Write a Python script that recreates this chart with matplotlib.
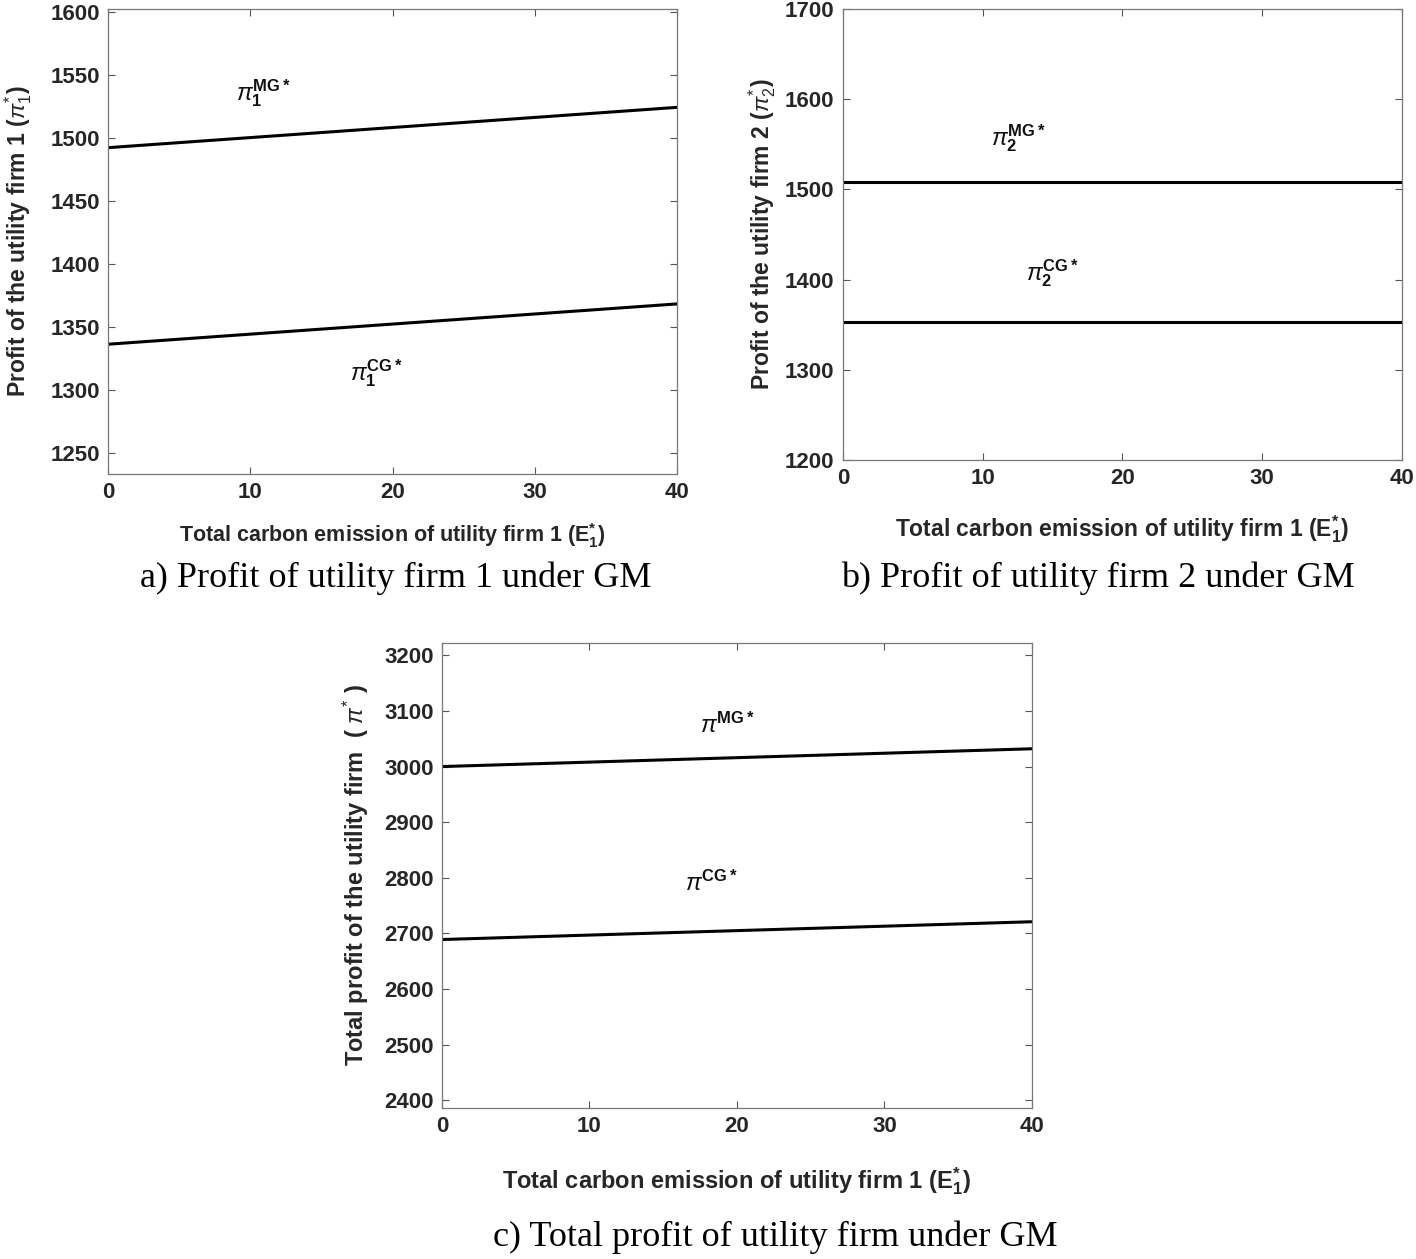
import matplotlib
matplotlib.use('Agg')
import matplotlib.pyplot as plt

# Data (E1* from 0 to 40)
emission = [0, 40]

profit1_mg = [1492, 1524]
profit1_cg = [1336, 1368]

profit2_mg = [1508, 1508]
profit2_cg = [1353, 1353]

total_mg = [3000, 3032]
total_cg = [2689, 2721]

xticks = [0, 10, 20, 30, 40]
yticks_a = [1250, 1300, 1350, 1400, 1450, 1500, 1550, 1600]
yticks_b = [1200, 1300, 1400, 1500, 1600, 1700]
yticks_c = [2400, 2500, 2600, 2700, 2800, 2900, 3000, 3100, 3200]

plt.rcParams['font.family'] = ['Liberation Sans', 'DejaVu Sans']
plt.rcParams['mathtext.fontset'] = 'custom'
plt.rcParams['mathtext.rm'] = 'Liberation Sans'
plt.rcParams['mathtext.it'] = 'Liberation Sans:italic'
plt.rcParams['mathtext.bf'] = 'Liberation Sans:bold'

fig = plt.figure(figsize=(14.16, 12.59), dpi=100)

xlab = r'Total carbon emission of utility firm 1 (E$_\mathbf{1}^\mathbf{*}$)'


def style_axis(ax, yticks, ylim, ylabel, xfs, yfs, xpad, ypad):
    ax.set_xlim(0, 40)
    ax.set_ylim(*ylim)
    ax.set_xticks(xticks)
    ax.set_yticks(yticks)
    ax.tick_params(direction='in', length=5, width=0.8, color='#555555',
                   labelsize=16, top=True, right=True, pad=6)
    for lab in ax.get_xticklabels() + ax.get_yticklabels():
        lab.set_fontweight('bold')
        lab.set_color('#262626')
    for sp in ax.spines.values():
        sp.set_color('#777777')
        sp.set_linewidth(0.9)
    ax.set_xlabel(xlab, fontsize=xfs, fontweight='bold', color='#262626', labelpad=xpad)
    ax.set_ylabel(ylabel, fontsize=yfs, fontweight='bold', color='#262626', labelpad=ypad)


def pi_label(ax, x, y, sub, sup):
    if sub:
        s = r'$\pi_{\mathbf{%s}}^{\mathbf{%s}}$' % (sub, sup)
    else:
        s = r'$\pi^{\mathbf{%s}}$' % sup
    ax.text(x, y, s, fontsize=17, color='#111111', ha='left', va='center')


# a) firm 1
ax_a = fig.add_axes([0.0763, 0.6235, 0.4018, 0.3693])
ax_a.plot(emission, profit1_mg, color='black', lw=2.2)
ax_a.plot(emission, profit1_cg, color='black', lw=2.2)
style_axis(ax_a, yticks_a, (1233, 1602), r'Profit of the utility firm 1 ($\pi_1^{*}$)',
           15.5, 16.5, 13, 12)
pi_label(ax_a, 9.0, 1535, '1', 'MG*')
pi_label(ax_a, 17.0, 1313, '1', 'CG*')

# b) firm 2
ax_b = fig.add_axes([0.5953, 0.6346, 0.3948, 0.3582])
ax_b.plot(emission, profit2_mg, color='black', lw=2.2)
ax_b.plot(emission, profit2_cg, color='black', lw=2.2)
style_axis(ax_b, yticks_b, (1200, 1700), r'Profit of the utility firm 2 ($\pi_2^{*}$)',
           16.5, 16.5, 17, 5)
pi_label(ax_b, 10.6, 1557, '2', 'MG*')
pi_label(ax_b, 13.1, 1407, '2', 'CG*')

# c) total
ax_c = fig.add_axes([0.3121, 0.1199, 0.4167, 0.3693])
ax_c.plot(emission, total_mg, color='black', lw=2.2)
ax_c.plot(emission, total_cg, color='black', lw=2.2)
style_axis(ax_c, yticks_c, (2386, 3222), r'Total profit of the utility firm  ( $\pi^{*}$ )',
           17, 17, 20, 9)
pi_label(ax_c, 17.5, 3075, None, 'MG*')
pi_label(ax_c, 16.5, 2790, None, 'CG*')

# captions
cap_kw = dict(fontsize=26, family=['Liberation Serif', 'DejaVu Serif'],
              ha='center', va='center', color='black')
fig.text(396 / 1416, 1 - 578 / 1259, 'a) Profit of utility firm 1 under GM', **cap_kw)
fig.text(1098 / 1416, 1 - 578 / 1259, 'b) Profit of utility firm 2 under GM', **cap_kw)
fig.text(775 / 1416, 1 - 1237 / 1259, 'c) Total profit of utility firm under GM', **cap_kw)

fig.savefig('out.png', dpi=100)
